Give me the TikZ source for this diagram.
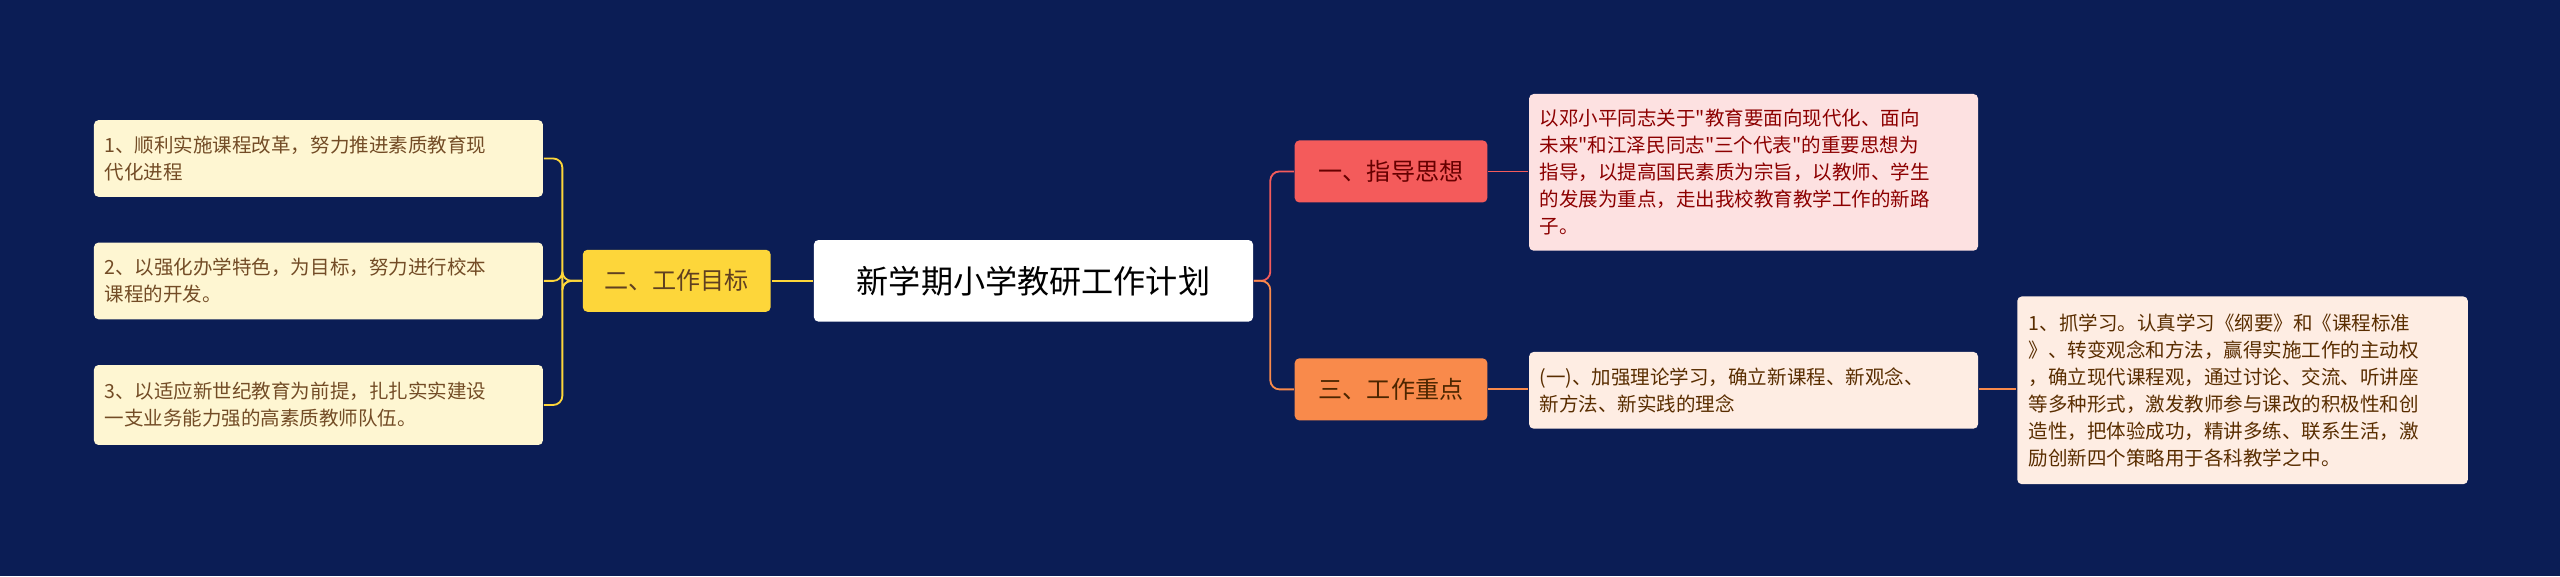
\documentclass[tikz,border=0pt]{standalone}
\usepackage{fontspec}
\newfontfamily\cjk{Noto Sans CJK SC}
\usetikzlibrary{positioning}
\definecolor{bgblue}{HTML}{0B1D55}
\definecolor{redmain}{HTML}{F45B5B}
\definecolor{redleaf}{HTML}{FDE1E1}
\definecolor{orgmain}{HTML}{F98A4B}
\definecolor{orgleaf}{HTML}{FEEDE3}
\definecolor{ylwmain}{HTML}{FDD63A}
\definecolor{ylwleaf}{HTML}{FEF6D2}
\begin{document}
\begin{tikzpicture}[x=0.05cm, y=-0.05cm, line width=1.6pt,
  box/.style ={rounded corners=4pt, inner sep=0pt, font=\cjk},
  topic/.style ={box, minimum height=1.9cm, font=\cjk\fontsize{21}{25}\selectfont},
  leaf/.style ={box, anchor=north west, align=left, text width=13.1cm, inner xsep=0.3cm,
    inner ysep=0.22cm, font=\cjk\fontsize{17}{23.5}\selectfont}]
\fill[bgblue] (0,0) rectangle (1568,353);
\node[box, fill=white, minimum width=13.45cm, minimum height=2.5cm,
  font=\cjk\fontsize{28}{32}\selectfont] (root) at (633,172) {新学期小学教研工作计划};
\node[topic, fill=redmain, text=red!40!black, minimum width=5.9cm] (guide) at (852,105) {一、指导思想};
\node[topic, fill=orgmain, text=orange!30!black, minimum width=5.9cm] (focus) at (852,238.5) {三、工作重点};
\node[topic, fill=ylwmain, text=brown!50!black, minimum width=5.75cm] (goal) at (414.5,172) {二、工作目标};
\node[leaf, fill=redleaf, text=red!55!black, minimum width=13.75cm, minimum height=4.8cm] (guidetxt) at (936,57)
  {以邓小平同志关于"教育要面向现代化、面向\\未来"和江泽民同志"三个代表"的重要思想为\\指导，以提高国民素质为宗旨，以教师、学生\\的发展为重点，走出我校教育教学工作的新路\\子。};
\node[leaf, fill=orgleaf, text=orange!35!black, minimum width=13.75cm, minimum height=2.35cm] (focustxt) at (936,215)
  {(一)、加强理论学习，确立新课程、新观念、\\新方法、新实践的理念};
\node[leaf, fill=orgleaf, text=orange!35!black, minimum width=13.8cm, minimum height=5.75cm] (study) at (1235,181)
  {1、抓学习。认真学习《纲要》和《课程标准\\》、转变观念和方法，赢得实施工作的主动权\\，确立现代课程观，通过讨论、交流、听讲座\\等多种形式，激发教师参与课改的积极性和创\\造性，把体验成功，精讲多练、联系生活，激\\励创新四个策略用于各科教学之中。};
\node[leaf, fill=ylwleaf, text=brown!60!black, minimum width=13.75cm, minimum height=2.35cm] (goala) at (57,73)
  {1、顺利实施课程改革，努力推进素质教育现\\代化进程};
\node[leaf, fill=ylwleaf, text=brown!60!black, minimum width=13.75cm, minimum height=2.35cm] (goalb) at (57,148)
  {2、以强化办学特色，为目标，努力进行校本\\课程的开发。};
\node[leaf, fill=ylwleaf, text=brown!60!black, minimum width=13.75cm, minimum height=2.45cm] (goalc) at (57,223)
  {3、以适应新世纪教育为前提，扎扎实实建设\\一支业务能力强的高素质教师队伍。};
% connectors
\draw[redmain, rounded corners=8pt] (root.east) -- ++(10,0) |- (guide.west);
\draw[orgmain, rounded corners=8pt] (root.east) -- ++(10,0) |- (focus.west);
\draw[ylwmain] (root.west) -- (goal.east);
\draw[redmain] (guide.east) -- (guidetxt.west |- guide.east);
\draw[orgmain] (focus.east) -- (focustxt.west |- focus.east);
\draw[orgmain] (focustxt.east |- focus.east) -- (study.west |- focus.east);
\foreach \g in {goala,goalb,goalc}
  \draw[ylwmain, rounded corners=8pt] (goal.west) -- ++(-12,0) |- (\g.east);
\end{tikzpicture}
\end{document}
